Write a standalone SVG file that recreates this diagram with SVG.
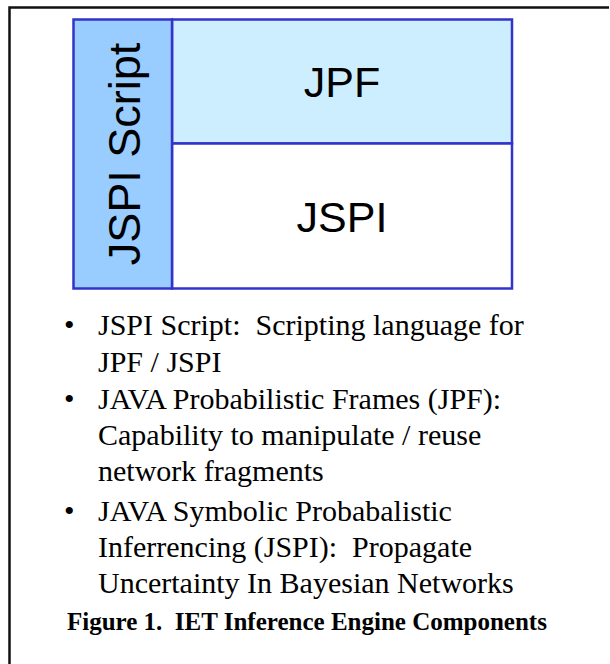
<svg xmlns="http://www.w3.org/2000/svg" width="610" height="664" viewBox="0 0 610 664">
<style>
.box{stroke:#3333cc;stroke-width:2.5}
.sans{font-family:"Liberation Sans",Arial,sans-serif;fill:#000}
.serif{font-family:"Liberation Serif","Times New Roman",serif;fill:#000;font-size:30px}
</style>
<rect x="0" y="0" width="610" height="664" fill="#fff"/>
<path d="M9.5,675 V7.5 H609" fill="none" stroke="#111" stroke-width="2.5"/>
<g id="jpf">
<rect class="box" x="172" y="19.5" width="340" height="124" fill="#cceeff"/>
<text class="sans" x="342" y="97" font-size="43" text-anchor="middle">JPF</text>
</g>
<g id="jspi">
<rect class="box" x="172" y="143.5" width="340" height="145" fill="#fff"/>
<text class="sans" x="342" y="232" font-size="43" text-anchor="middle">JSPI</text>
</g>
<g id="jspi-script">
<rect class="box" x="73.5" y="19.5" width="98.5" height="269" fill="#99ccff"/>
<text class="sans" transform="translate(140,154) rotate(-90)" x="0" y="0" font-size="45" text-anchor="middle">JSPI Script</text>
</g>
<g id="bullets" class="serif">
<text x="64" y="335">•</text>
<text x="98" y="335" xml:space="preserve">JSPI Script:  Scripting language for</text>
<text x="98" y="372">JPF / JSPI</text>
<text x="64" y="409">•</text>
<text x="98" y="409">JAVA Probabilistic Frames (JPF):</text>
<text x="98" y="445">Capability to manipulate / reuse</text>
<text x="98" y="481">network fragments</text>
<text x="64" y="521">•</text>
<text x="98" y="521">JAVA Symbolic Probabalistic</text>
<text x="98" y="557" xml:space="preserve">Inferrencing (JSPI):  Propagate</text>
<text x="98" y="593">Uncertainty In Bayesian Networks</text>
</g>
<text id="caption" x="67" y="630" xml:space="preserve" style="font-family:'Liberation Serif','Times New Roman',serif;font-weight:bold;font-size:25px">Figure 1.  IET Inference Engine Components</text>
</svg>
